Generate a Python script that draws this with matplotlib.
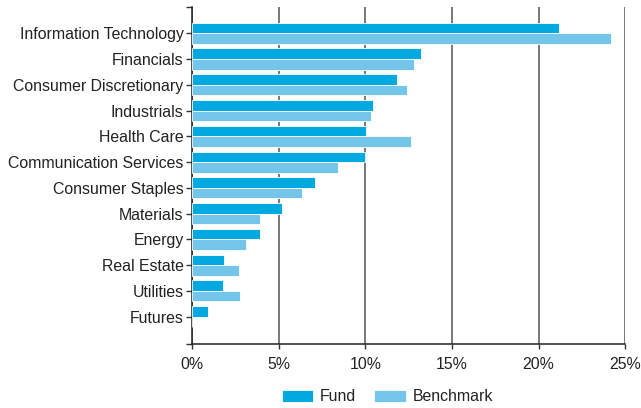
import numpy as np
import matplotlib.pyplot as plt
from matplotlib.ticker import FixedLocator

plt.rcParams['font.family'] = ['Liberation Sans', 'DejaVu Sans']

# sector weights (%)
sectors = ['Information Technology', 'Financials', 'Consumer Discretionary', 'Industrials',
           'Health Care', 'Communication Services', 'Consumer Staples', 'Materials',
           'Energy', 'Real Estate', 'Utilities', 'Futures']
fund = [21.2, 13.2, 11.8, 10.45, 10.05, 10.0, 7.1, 5.2, 3.9, 1.85, 1.8, 0.9]
benchmark = [24.2, 12.8, 12.4, 10.35, 12.65, 8.45, 6.35, 3.9, 3.1, 2.7, 2.75, 0]
xticks = [0, 5, 10, 15, 20, 25]

c_fund = '#00a9e0'
c_bench = '#73c6ea'

fig = plt.figure(figsize=(6.41, 4.08), dpi=100)
ax = fig.add_axes([0.2995, 0.157, 0.9755 - 0.2995, 0.9828 - 0.157])

y = np.arange(len(sectors))[::-1]
h = 0.41
ax.barh(y + h/2, fund, height=h, color=c_fund, edgecolor='white', linewidth=0.6, label='Fund', zorder=3)
ax.barh(y - h/2, benchmark, height=h, color=c_bench, edgecolor='white', linewidth=0.6, label='Benchmark', zorder=3)

ylo, yhi = -1.06, len(sectors) - 1 + 1.02
ax.set_xlim(0, 25)
ax.set_ylim(ylo, yhi)
ax.set_xticks(xticks)
ax.set_xticklabels([f'{v}%' for v in xticks])
ax.set_yticks(y)
ax.set_yticklabels(sectors)
# little ticks at both ends of the y axis
ax.yaxis.set_minor_locator(FixedLocator([ylo, yhi]))
ax.tick_params(axis='y', which='both', length=4.5, width=1, color='#333333', pad=1.5, labelsize=11.4, labelcolor='#222222')
ax.tick_params(axis='x', length=3.5, width=1, color='#333333', pad=6, labelsize=11.4, labelcolor='#222222')

ax.grid(axis='x', color='#555555', linewidth=1.1, zorder=0)
ax.set_axisbelow(True)
for s in ['top', 'right']:
    ax.spines[s].set_visible(False)
for s in ['left', 'bottom']:
    ax.spines[s].set_color('#222222')
    ax.spines[s].set_linewidth(1.1)

fig.legend(loc='center', bbox_to_anchor=(0.6045, 0.027), ncol=2, frameon=False,
           fontsize=11.4, handlelength=1.98, handleheight=0.83, handletextpad=0.45,
           columnspacing=1.15, labelcolor='#222222')

fig.savefig('out.png', dpi=100)
